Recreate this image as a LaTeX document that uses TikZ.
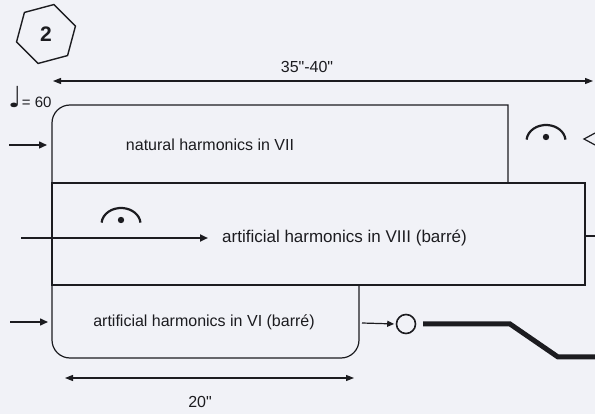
\documentclass[tikz,border=0pt]{standalone}
\usepackage{fontspec}
\setmainfont{Liberation Sans}
\newfontfamily\symfont{DejaVu Sans}
\usetikzlibrary{arrows.meta,shapes.geometric}
\definecolor{bg}{RGB}{241,242,247}
\definecolor{ink}{RGB}{28,28,32}
\begin{document}
\begin{tikzpicture}[x=1pt,y=1pt,
  boxline/.style={draw=ink,line width=1.2pt},
  inarrow/.style={draw=ink,line width=1.5pt,-{Triangle[length=8pt,width=7pt]}},
  dimarrow/.style={draw=ink,line width=1.1pt,{Triangle[length=8pt,width=6pt]}-{Triangle[length=8pt,width=6pt]}},
  lbl/.style={font=\fontsize{16}{19}\selectfont,text=ink,inner sep=0pt},
  fermata/.pic={
    \draw[ink,line width=2.2pt] (-19.4,1.4) arc[start angle=175,end angle=5,x radius=19.5,y radius=16];
    \fill[ink] (0,4) circle (3.2);
  }
]
% background / bounding box
\fill[bg] (0,0) rectangle (595,-414);
\useasboundingbox (0,0) rectangle (595,-414);

% section number
\node[regular polygon,regular polygon sides=6,shape border rotate=15,draw=ink,line width=1.4pt,
  minimum size=61pt,inner sep=0pt,font=\bfseries\fontsize{21}{21}\selectfont,text=ink] (hex) at (46,-34) {2};

% tempo
\node[anchor=base west,inner sep=0pt,text=ink] (tempo) at (8,-108)
  {{\symfont\fontsize{29}{29}\selectfont ♩}\fontsize{15}{17}\selectfont= 60};

% overall duration
\coordinate (topL) at (53,-81);
\coordinate (topR) at (593,-81);
\draw[dimarrow] (topL) -- (topR);
\node[lbl] (dur1) at (307,-67) {35\textquotedbl-40\textquotedbl};

% boxes
\draw[boxline] (52,-183) -- (52,-123) arc[start angle=180,end angle=90,radius=18] -- (508,-105) -- (508,-183);
\draw[boxline] (52,-183) rectangle (585,-285);
\draw[boxline] (52,-285) -- (52,-340) arc[start angle=180,end angle=270,radius=18]
  -- (341,-358) arc[start angle=270,end angle=360,radius=18] -- (359,-285);

% labels in boxes
\node[lbl] (t1) at (210,-145) {natural harmonics in VII};
\node[lbl,anchor=west,font=\fontsize{17}{20}\selectfont] (t2) at (222,-238) {artificial harmonics in VIII (barré)};
\node[lbl] (t3) at (204,-322) {artificial harmonics in VI (barré)};

% entry arrows
\coordinate (in1s) at (9,-145);
\coordinate (in1e) at (47,-145);
\draw[inarrow] (in1s) -- (in1e);
\coordinate (in2s) at (21,-238);
\draw[inarrow,line width=2pt,shorten >=14pt] (in2s) -- (t2.west);
\coordinate (in3s) at (10,-322);
\coordinate (in3e) at (48,-322);
\draw[inarrow] (in3s) -- (in3e);

% fermatas and hairpin
\pic at (546,-141) {fermata};
\pic at (121,-224) {fermata};
\coordinate (hp) at (584,-139);
\coordinate (hpu) at (597,-132);
\coordinate (hpl) at (597,-146);
\draw[ink,line width=1.2pt] (hpu) -- (hp) -- (hpl);

% box 2 continuation tick
\coordinate (b2r) at (585,-236);
\coordinate (b2x) at (597,-236);
\draw[ink,line width=1.2pt] (b2r) -- (b2x);

% box 3 exit
\coordinate (b3e) at (362,-323);
\node[circle,draw=ink,line width=1.6pt,minimum size=19pt,inner sep=0pt] (circ) at (406,-324) {};
\draw[ink,line width=1.2pt,-{Triangle[length=7pt,width=6pt]},shorten >=1.5pt] (b3e) -- (circ.west);
\coordinate (g1) at (423,-324);
\coordinate (g2) at (510,-324);
\coordinate (g3) at (558,-357);
\coordinate (g4) at (597,-357);
\draw[ink,line width=5pt] (g1) -- (g2) -- (g3) -- (g4);

% short duration
\coordinate (botL) at (65,-378);
\coordinate (botR) at (354,-378);
\draw[dimarrow] (botL) -- (botR);
\node[lbl] (dur2) at (200,-402) {20\textquotedbl};
\end{tikzpicture}
\end{document}
